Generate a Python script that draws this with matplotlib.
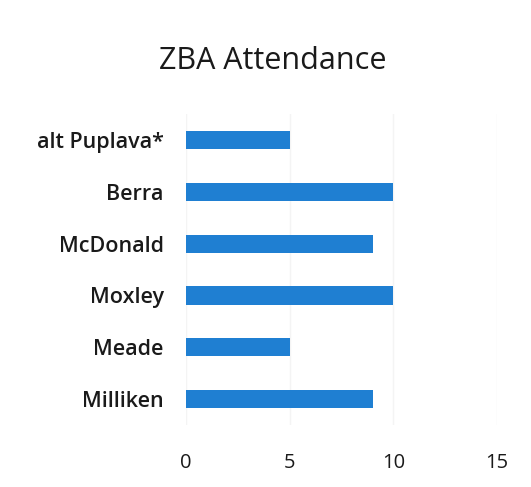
import matplotlib.pyplot as plt

# Data
members = ["alt Puplava*", "Berra", "McDonald", "Moxley", "Meade", "Milliken"]
attendance = [5, 10, 9, 10, 5, 9]
x_ticks = [0, 5, 10, 15]

plt.rcParams["font.family"] = ["Open Sans", "DejaVu Sans"]

fig = plt.figure(figsize=(5.31, 4.87), dpi=100)
ax = fig.add_axes([0.350, 0.127, 0.586, 0.639])

ax.barh(range(len(members)), attendance, height=0.35, color="#1f7fd2", zorder=2)
ax.set_yticks(range(len(members)))
ax.set_yticklabels(members, fontsize=15.5, color="#1a1a1a", fontweight="semibold")
ax.set_ylim(len(members) - 0.5, -0.5)

ax.set_xlim(0, 15)
ax.set_xticks(x_ticks)
ax.set_xticklabels([str(t) for t in x_ticks], fontsize=14.5, color="#1a1a1a")
ax.tick_params(axis="x", length=0, pad=20)
ax.tick_params(axis="y", length=0, pad=16)
ax.grid(axis="x", color="#f4f4f4", linewidth=1, zorder=0)

for s in ax.spines.values():
    s.set_visible(False)

fig.text(0.513, 0.875, "ZBA Attendance", ha="center", va="center",
         fontsize=22, color="#1a1a1a")

fig.savefig("out.png", dpi=100, facecolor="white")
